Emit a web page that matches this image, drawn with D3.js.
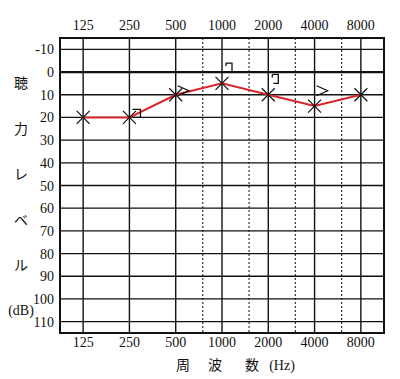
<!DOCTYPE html>
<html><head><meta charset="utf-8">
<script src="https://cdn.jsdelivr.net/npm/d3@7"></script>
<style>
html,body{margin:0;padding:0;background:#fff;}
svg{display:block;}
</style></head>
<body>
<script>
// ---- data ----
const freqs = [125, 250, 500, 1000, 2000, 4000, 8000];
const freqLabels = ["125", "250", "500", "1000", "2000", "4000", "8000"];
const halfFreqs = [750, 1500, 3000, 6000];
const dbTicks = [-10, 0, 10, 20, 30, 40, 50, 60, 70, 80, 90, 100, 110];
const airConduction = [20, 20, 10, 5, 10, 15, 10];
const boneFreqs = [250, 500, 1000, 2000, 4000];
const boneValues = [20, 10, 0, 5, 10];
const boneSymbols = ["box", "gt", "bracket", "bracket", "gt"];
const yTitleChars = ["聴", "力", "レ", "ベ", "ル", "(dB)"];
const yTitleAt = [5, 25, 45, 65, 85, 105];
const xTitleParts = ["周", "波", "数", "(Hz)"];

const W = 400, H = 379;
const svg = d3.select("body").append("svg").attr("width", W).attr("height", H);

const x = d3.scaleLog().base(2).domain([125 / Math.SQRT2, 8000 * Math.SQRT2]).range([60, 384]);
const y = d3.scaleLinear().domain([-15, 115]).range([38, 333]);

const numFont = "'Liberation Serif','DejaVu Serif',serif";
const jpFont = "'Noto Sans CJK JP',sans-serif";

// grid: horizontal lines
svg.append("g").selectAll("line").data(dbTicks).join("line")
  .attr("x1", x.range()[0]).attr("x2", x.range()[1])
  .attr("y1", d => y(d)).attr("y2", d => y(d))
  .attr("stroke", "#111").attr("stroke-width", d => d === 0 ? 2.2 : 1.3);

// dashed half-octave lines
svg.append("g").selectAll("line").data(halfFreqs).join("line")
  .attr("x1", d => x(d)).attr("x2", d => x(d))
  .attr("y1", y.range()[0]).attr("y2", y.range()[1])
  .attr("stroke", "#222").attr("stroke-width", 1.1).attr("stroke-dasharray", "2,2");

// octave lines
svg.append("g").selectAll("line").data(freqs).join("line")
  .attr("x1", d => x(d)).attr("x2", d => x(d))
  .attr("y1", y.range()[0]).attr("y2", y.range()[1])
  .attr("stroke", "#111").attr("stroke-width", 1.4);

// border
svg.append("rect").attr("x", x.range()[0]).attr("y", y.range()[0])
  .attr("width", x.range()[1] - x.range()[0]).attr("height", y.range()[1] - y.range()[0])
  .attr("fill", "none").attr("stroke", "#111").attr("stroke-width", 2);

// top & bottom frequency labels
const labelG = svg.append("g").attr("font-family", numFont).attr("font-size", 14).attr("fill", "#111").attr("text-anchor", "middle");
labelG.selectAll("text.top").data(freqs).join("text").attr("class", "top")
  .attr("x", d => x(d)).attr("y", 30).text((d, i) => freqLabels[i]);
labelG.selectAll("text.bot").data(freqs).join("text").attr("class", "bot")
  .attr("x", d => x(d)).attr("y", 347).text((d, i) => freqLabels[i]);

// y tick labels
svg.append("g").attr("font-family", numFont).attr("font-size", 14).attr("fill", "#111").attr("text-anchor", "end")
  .selectAll("text").data(dbTicks).join("text")
  .attr("x", 54).attr("y", d => y(d) + 5).text(d => d);

// y title
svg.append("g").attr("fill", "#111").attr("text-anchor", "middle")
  .selectAll("text").data(yTitleChars).join("text")
  .attr("x", 21).attr("y", (d, i) => y(yTitleAt[i]) + 5)
  .attr("font-family", d => d.length > 1 ? numFont : jpFont)
  .attr("font-size", d => d.length > 1 ? 14 : 14)
  .text(d => d);

// x title
const xTitleX = [183, 215, 252, 282];
svg.append("g").attr("fill", "#111").attr("text-anchor", "middle")
  .selectAll("text").data(xTitleParts).join("text")
  .attr("x", (d, i) => xTitleX[i]).attr("y", 370)
  .attr("font-family", d => d.length > 1 ? numFont : jpFont)
  .attr("font-size", 14)
  .text(d => d);

// air conduction line
const line = d3.line().x((d, i) => x(freqs[i])).y(d => y(d));
svg.append("path").datum(airConduction).attr("d", line)
  .attr("fill", "none").attr("stroke", "#d8262a").attr("stroke-width", 2);

// x markers
const s = 6.5;
svg.append("g").selectAll("path").data(airConduction).join("path")
  .attr("d", (d, i) => {
    const cx = x(freqs[i]), cy = y(d);
    return `M${cx - s},${cy - s}L${cx + s},${cy + s}M${cx - s},${cy + s}L${cx + s},${cy - s}`;
  })
  .attr("stroke", "#111").attr("stroke-width", 1.2).attr("fill", "none");

// bone conduction markers
svg.append("g").selectAll("path").data(boneValues).join("path")
  .attr("d", (d, i) => {
    const cx = x(boneFreqs[i]) + 8, cy = y(d) - 4, t = boneSymbols[i];
    if (t === "bracket") return `M${cx - 4},${cy - 5}L${cx + 2},${cy - 5}L${cx + 2},${cy + 4}L${cx - 3},${cy + 4}M${cx - 4},${cy - 5}L${cx - 4},${cy - 2}`;
    if (t === "gt") return `M${cx - 6},${cy - 5}L${cx + 5},${cy}L${cx - 6},${cy + 5}`;
    return `M${cx - 5},${cy - 4}L${cx + 3},${cy - 4}L${cx + 3},${cy + 4}L${cx - 5},${cy + 4}`;
  })
  .attr("stroke", "#111").attr("stroke-width", 1.3).attr("fill", "none");
</script>
</body></html>
